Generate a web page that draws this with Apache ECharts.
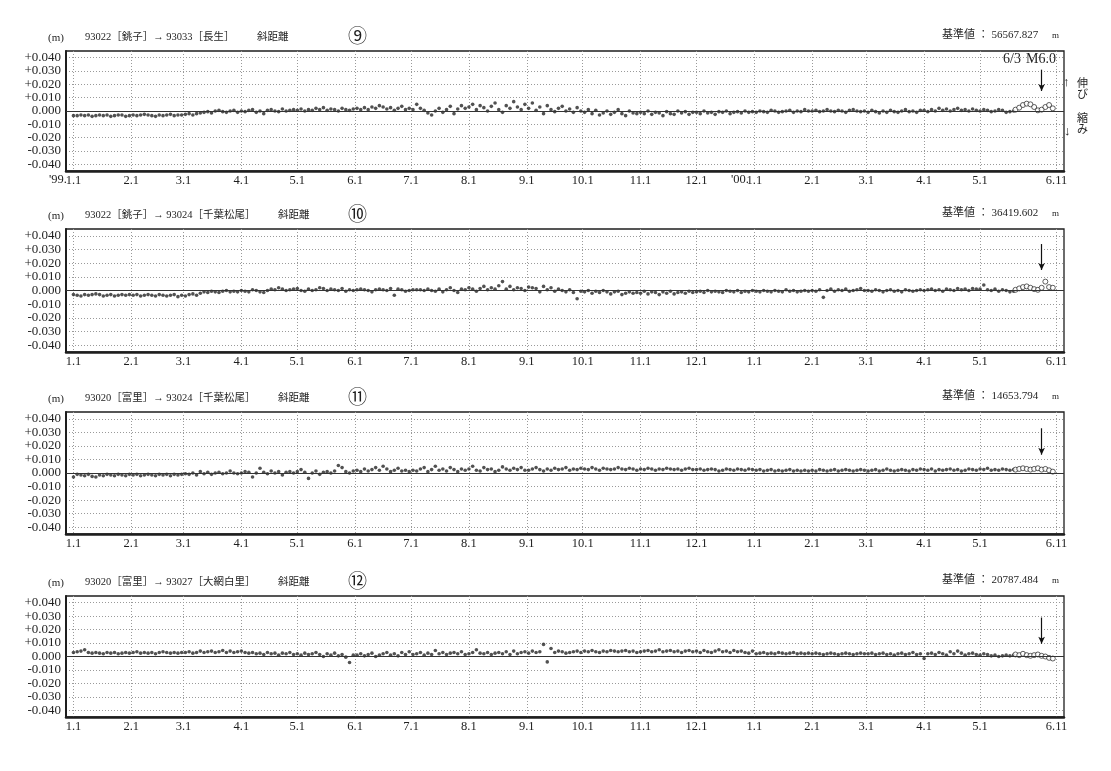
<!DOCTYPE html>
<html><head><meta charset="utf-8">
<script src="https://cdn.jsdelivr.net/npm/echarts/dist/echarts.min.js"></script>
<style>html,body{margin:0;padding:0;background:#fff}#c{width:1111px;height:771px}</style>
</head><body><div id="c"></div>
<script>
// ---- axis / categories ----
const AXIS_START = '1998-12-28';
const AXIS_DAYS = 536;              // 1998-12-28 .. 2000-06-15
const tickDates = ['1999-01-01','1999-02-01','1999-03-01','1999-04-01','1999-05-01','1999-06-01','1999-07-01','1999-08-01','1999-09-01','1999-10-01','1999-11-01','1999-12-01','2000-01-01','2000-02-01','2000-03-01','2000-04-01','2000-05-01','2000-06-11'];
const tickLabels = ['1.1','2.1','3.1','4.1','5.1','6.1','7.1','8.1','9.1','10.1','11.1','12.1','1.1','2.1','3.1','4.1','5.1','6.11'];
const yTicks = [40,30,20,10,0,-10,-20,-30,-40];   // mm, shown as m
const quakeDate = '2000-06-03';

// ---- sampling of the series (every 2nd day) ----
const FILLED_START = '1999-01-01';
const FILLED_STEP = 2;
const OPEN_START = '2000-05-20';
const OPEN_STEP = 2;

// ---- values in mm ----
const p9Filled = [
 -3.5,-3.5,-3,-3.5,-3,-4,-3.5,-3,-3.5,-3,-4,-3.5,-3,-3,-4,-3.5,
 -3,-3.5,-3,-2.5,-3,-3.5,-4,-3,-3.5,-3,-2.5,-3.5,-3,-3,
 -2.5,-2,-3,-2,-1.5,-1,-0.5,-1.5,0,0.5,-0.5,-1,0,0.5,-1,
 0,-0.5,0.5,1,-1,0,-2,0.5,1,0,-0.5,1.5,0,0.5,1,
 0.5,1.5,0,1,0.5,2,1,2.5,0.5,1.5,1,0,2,1,0.5,1.5,
 2,1,2.5,1,3,2,4,3,1.5,2.5,0.5,2,3.5,1,2,
 1,5,2,0.5,-1.5,-3,0,2,-1,1,3.5,-2,1.5,4,2,
 3,5,1,4,2.5,0,3.5,6,1,-1,4,2,7,3,1,5,
 2,6,0.5,3,-2,4,1,-0.5,2,3.5,0,1.5,-1,2.5,0,
 -1,1,-2,0.5,-3,-1.5,0,-2.5,-1,1,-2,-3.5,0,-1.5,-2,
 -1,-2,0,-2.5,-1,-1.5,-3.5,-0.5,-2,-2.5,0,-1.5,-0.5,-2.5,-1,
 -1,-2,0,-1.5,-1,-2.5,-0.5,-1,0,-2,-1,-0.5,-1.5,0,-1,-0.5,
 -1,0,-0.5,-1,0.5,0,-1,-0.5,0,0.5,-1,0,-0.5,1,0,
 0,0.5,-0.5,0,1,0,-0.5,0.5,0,-1,0.5,1,0,-0.5,0,
 -1,0.5,-0.5,-1.5,0,-1,0.5,-0.5,-1,0,1,-0.5,0,-1,0.5,
 0.5,-0.5,1,0,2,0.5,1.5,0,1,2,0.5,1,0,1.5,0.5,
 0,1,0.5,-0.5,0,1,0.5,-1,-0.5,0];
const p9Open = [1,2.5,4.5,5.5,5,3,0.5,1,3,4.5,2];

const p10Filled = [
 -3,-3.5,-4,-3,-3.5,-3,-2.5,-3,-4,-3.5,-3,-4,-3.5,-3,-3.5,-3,
 -3.5,-3,-4,-3.5,-3,-3.5,-4,-3,-3.5,-4,-3.5,-3,-4.5,-3.5,
 -4,-3,-2.5,-3.5,-2,-1,-1.5,-0.5,-1,-1.5,-0.5,0,-1,-0.5,-1,
 0,-0.5,-1,0.5,0,-1,-1.5,0,1,0.5,2,1,0,0.5,1,
 1.5,0,-0.5,1,0,0.5,2,1.5,0,1,0.5,0,1.5,-0.5,0.5,0,
 0.5,1,0.5,0,-1,0.5,1,0.5,0,1.5,-3.5,1,0.5,-0.5,0,
 0.5,0.5,0.5,0,1,0,-0.5,1,-1,0.5,2,0,-1.5,1,0.5,
 2,1,-0.5,1.5,3,0.5,2,1,3.5,6.5,1,3,0.5,2,1.5,0,
 2.5,2,1.5,-1,3,0.5,2,-0.5,1,0,-1,0.5,-1.5,-6,-0.5,
 -1,0,-2,-0.5,-1.5,0,-1,-2.5,-1,-0.5,-3,-2,-1,-2,-1.5,
 -2,-0.5,-2.5,-1,-1.5,-3,-1,-2,-0.5,-2.5,-1.5,-1,-2,-0.5,-1.5,
 -1,-0.5,-1.5,0,-1,-0.5,-1,-1.5,0,-0.5,-1,0,-1.5,-0.5,-1,0,
 -0.5,-1,0,-0.5,-1,0,-0.5,-1,0.5,-0.5,0,-1,-0.5,0,-0.5,
 0,-0.5,0.5,-5,0,1,-0.5,0.5,0,1,-0.5,0,0.5,1.5,0,
 0,-0.5,0.5,0,-1,0,0.5,-0.5,0,-1,0.5,0,-0.5,0,0.5,
 0,0.5,1,0,0.5,-0.5,1,0.5,0,1.5,0.5,1,0,1.5,1,
 1,4,0.5,0,1,-0.5,0.5,0,-1,-0.5];
const p10Open = [0.5,1.5,2.5,3,2,1,0.5,2,6.5,2.5,2];

const p11Filled = [
 -3,-1,-1.5,-2,-1,-2.5,-3,-1.5,-2,-1,-1.5,-2,-1,-1.5,-2,-1,
 -1.5,-1,-2,-1.5,-1,-1.5,-2,-1,-1.5,-1,-2,-1,-1.5,-1,
 -0.5,-1,0,-1.5,1,-0.5,0.5,-1,0,0.5,-0.5,0,1.5,0,-0.5,
 0,1,0.5,-3,0,3.5,0.5,-0.5,1.5,0,1,-1.5,0.5,1,0,
 1,2.5,0.5,-4,0,1.5,-1,0.5,1,0,1.5,5.5,4,1,0,1.5,
 2,1,3,1.5,2.5,4,2,5,3,1,2,3.5,1.5,2,1,
 2,1.5,3,4,1,2.5,5,2,3,1.5,4,2.5,1,3,2,
 3,5,2,1.5,4,2.5,3,1,2,4.5,3,2,3.5,2.5,4,2,
 2,3,4,2.5,1.5,3,2,3.5,2.5,3,4,2,3,2.5,3.5,
 3,2.5,4,3,2,3.5,3,2.5,3,4,3,2.5,3.5,3,2,
 3,2.5,3.5,3,2,3,2.5,3.5,3,2.5,3,2,3,3.5,2.5,
 2.5,3,2,2.5,3,2.5,1.5,2,3,2.5,2,3,2.5,2,3,2.5,
 2,2.5,1.5,2,2.5,1.5,2,1.5,2,2.5,1.5,2,1.5,2,1.5,
 2,1.5,2.5,2,1.5,2,2.5,1.5,2,2.5,2,1.5,2,2.5,2,
 1.5,2,2.5,1.5,2,3,2,1.5,2,2.5,2,1.5,2.5,2,3,
 2.5,2,3,1.5,2.5,2,2.5,3,2,2.5,1.5,2,3,2.5,2,
 3,2.5,3.5,2,2.5,2,3,2.5,2,2.5];
const p11Open = [2.5,3,3.5,3,2.5,3,3.5,2.5,3,2,1];

const p12Filled = [
 3,3.5,4,5,3,2.5,3,2.5,2,3,2.5,3,2,2.5,3,2.5,
 3,3.5,2.5,3,2.5,3,2,3,3.5,3,2.5,3,2.5,3,
 3,3.5,2.5,3,4,3,3.5,4,3,3.5,4.5,3,4,3,3.5,
 4,3,2.5,3,2,2.5,1.5,3,2,2.5,1,2.5,2,3,1.5,
 2,1,2.5,1.5,2,3,1.5,0,2,1,2.5,0.5,1.5,-0.5,-4.5,1,
 1,2,0.5,1.5,2.5,0,1,2,3,1,2,0.5,3,1.5,3.5,
 1.5,2,3,1,2.5,1.5,4.5,2,3,1.5,2.5,3,2,3.5,1.5,
 2,3,5,2.5,2,3,1.5,2.5,3,2,3.5,1.5,4,2,3,3.5,
 2.5,4,3,3.5,9,-4,6,3,4,3.5,2.5,3,3.5,4,3,
 4,3.5,4.5,3.5,3,4,3.5,4.5,4,3.5,4,4.5,3.5,4,3,
 3.5,4,4.5,3.5,4,5,3.5,4,4.5,3.5,4,3,4,4.5,3.5,
 4,3,4.5,3.5,3,4,5,3.5,4,3,4.5,3.5,4,3,2.5,4,
 2,2.5,3,2,2.5,2,3,2.5,2,2.5,3,2,2.5,2,2.5,
 2,2.5,2,1.5,2,2.5,2,1.5,2,2.5,2,1.5,2,2.5,2,
 2,2.5,1.5,2,2.5,1.5,2,1,2,2.5,1.5,2,3,1.5,2,
 -1.5,2,2.5,1.5,3,2,1,3.5,2,4,2.5,1,2,2.5,1.5,
 1,2,1.5,0.5,1,0,0.5,1,0.5,1];
const p12Open = [1.5,1,2,1,0.5,1,1.5,0.5,0,-1,-1.5];

const panelTitles = ['93022［銚子］→ 93033［長生］','93022［銚子］→ 93024［千葉松尾］','93020［富里］→ 93024［千葉松尾］','93020［富里］→ 93027［大網白里］'];
const panelNumbers = ['⑨','⑩','⑪','⑫'];
const baseValues = ['56567.827','36419.602','14653.794','20787.484'];
const filledSets = [p9Filled, p10Filled, p11Filled, p12Filled];
const openSets = [p9Open, p10Open, p11Open, p12Open];
const arrowFromTo = [[31,15],[34,15],[33,13.5],[29,9.5]];   // mm

// ---- layout (pixels) ----
const gridTops = [51, 229, 412, 596];
const gridHeights = [120, 123, 122, 121];
const kindLeft = [257, 278, 278, 278];
const GRID_LEFT = 66, GRID_RIGHT = 47;

// ---- build categories ----
function iso(d){ return d.toISOString().slice(0,10); }
const startMs = Date.parse(AXIS_START + 'T00:00:00Z');
const categories = [];
for (let i = 0; i < AXIS_DAYS; i++) categories.push(iso(new Date(startMs + i*86400000)));
const catIndex = {}; categories.forEach((c,i)=>catIndex[c]=i);
const labelMap = {}; tickDates.forEach((d,i)=>labelMap[d]=tickLabels[i]);
const isTick = (idx, val) => labelMap[val] !== undefined;

const FONT = "'Liberation Serif','Noto Sans CJK JP',serif";
const INK = '#1e1e1e';

const grids = [], xAxes = [], yAxes = [], series = [], graphics = [];
for (let k = 0; k < 4; k++) {
  grids.push({left: GRID_LEFT, right: GRID_RIGHT, top: gridTops[k], height: gridHeights[k], show: true, borderColor: INK, borderWidth: 1.3, backgroundColor: 'transparent'});
  xAxes.push({type:'category', gridIndex:k, data: categories, boundaryGap:false,
    axisLine:{show:true, onZero:false, lineStyle:{color:INK, width:2.5}},
    axisTick:{show:false},
    axisLabel:{interval:isTick, formatter:(v)=>labelMap[v]||'', margin:3, color:INK, fontFamily:FONT, fontSize:12.5},
    splitLine:{show:true, interval:isTick, lineStyle:{color:'#9a9a9a', width:1, type:[1,2]}}});
  yAxes.push({type:'value', gridIndex:k, min:-45, max:45, interval:5,
    axisLine:{show:true, lineStyle:{color:INK, width:2}},
    axisTick:{show:false},
    axisLabel:{margin:5, color:INK, fontFamily:FONT, fontSize:13,
      formatter:(v)=>{ if (!yTicks.includes(v)) return ''; const s=(Math.abs(v)/1000).toFixed(3); return v>0?'+'+s:(v<0?'-'+s:s); }},
    splitLine:{show:true, lineStyle:{color:['rgba(0,0,0,0)','#9a9a9a'], width:1, type:[1,2]}}});
  const f0 = catIndex[FILLED_START], o0 = catIndex[OPEN_START];
  const q = catIndex[quakeDate];
  series.push({type:'scatter', xAxisIndex:k, yAxisIndex:k, symbol:'circle', symbolSize:3.6,
    itemStyle:{color:'#262626'}, silent:true, animation:false,
    data: filledSets[k].map((v,i)=>[f0 + i*FILLED_STEP, v]),
    markLine:{silent:true, animation:false, symbol:'none', label:{show:false},
      lineStyle:{color:'#333', width:1, type:'solid'}, data:[{yAxis:0}]}});
  series.push({type:'scatter', xAxisIndex:k, yAxisIndex:k, symbol:'circle', symbolSize:5,
    itemStyle:{color:'#fff', borderColor:'#222', borderWidth:0.9}, silent:true, animation:false,
    data: openSets[k].map((v,i)=>[o0 + i*OPEN_STEP, v]),
    markLine:{silent:true, animation:false, symbol:['none','arrow'], symbolSize:[5,7], label:{show:false},
      lineStyle:{color:'#111', width:1.2, type:'solid'},
      data:[[{coord:[categories[q], arrowFromTo[k][0]]},{coord:[categories[q], arrowFromTo[k][1]]}]]}});

  const hy = gridTops[k] - 12;
  const tstyle = (txt, size) => ({text: txt, fill: INK, font: `${size}px ${FONT}`});
  graphics.push({type:'text', left:48, top: hy-6, style: tstyle('(m)', 11)});
  graphics.push({type:'text', left:85, top: hy-7, style: tstyle(panelTitles[k], 10.5)});
  graphics.push({type:'text', left:kindLeft[k], top: hy-7, style: tstyle('斜距離', 10.5)});
  graphics.push({type:'text', left:348, top: hy-10, style: tstyle(panelNumbers[k], 19)});
  graphics.push({type:'text', left:942, top: hy-9, style: tstyle('基準値 ： ' + baseValues[k], 11)});
  graphics.push({type:'text', left:1052, top: hy-8, style: tstyle('m', 9)});
}
// panel 1 extras
graphics.push({type:'text', left:49, top:173, style:{text:"'99.", fill:INK, font:`12.5px ${FONT}`}});
graphics.push({type:'text', left:731, top:173, style:{text:"'00.", fill:INK, font:`12.5px ${FONT}`}});
graphics.push({type:'text', left:1003, top:52, style:{text:'6/3', fill:INK, font:`14px ${FONT}`}});
graphics.push({type:'text', left:1026, top:52, style:{text:'M6.0', fill:INK, font:`14px ${FONT}`}});
graphics.push({type:'text', left:1063, top:76, style:{text:'↑', fill:INK, font:`13px ${FONT}`}});
graphics.push({type:'text', left:1077, top:77, style:{text:'伸\nび', fill:INK, font:`11px 'Noto Sans CJK JP'`, lineHeight:11}});
graphics.push({type:'text', left:1077, top:112, style:{text:'縮\nみ', fill:INK, font:`11px 'Noto Sans CJK JP'`, lineHeight:11}});
graphics.push({type:'text', left:1064, top:125, style:{text:'↓', fill:INK, font:`13px ${FONT}`}});

const chart = echarts.init(document.getElementById('c'), null, {renderer:'canvas'});
chart.setOption({animation:false, backgroundColor:'#fff', grid:grids, xAxis:xAxes, yAxis:yAxes, series:series, graphic:graphics});
</script></body></html>
